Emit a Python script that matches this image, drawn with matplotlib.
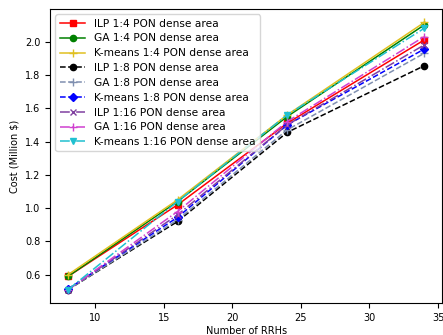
import matplotlib
matplotlib.use('Agg')
import matplotlib.pyplot as plt

# numero de RRHs
rrhs = [8, 16, 24, 34]

ilp_4 = [0.59, 1.02, 1.51, 2.01]
ga_4 = [0.59, 1.04, 1.55, 2.10]
km_4 = [0.60, 1.05, 1.56, 2.115]
ilp_8 = [0.51, 0.92, 1.455, 1.855]
ga_8 = [0.51, 0.93, 1.47, 1.93]
km_8 = [0.515, 0.945, 1.50, 1.955]
ilp_16 = [0.51, 0.96, 1.50, 1.98]
ga_16 = [0.51, 0.98, 1.52, 2.03]
km_16 = [0.51, 1.04, 1.56, 2.08]

labels = ['ILP 1:4 PON dense area', 'GA 1:4 PON dense area', 'K-means 1:4 PON dense area',
          'ILP 1:8 PON dense area', 'GA 1:8 PON dense area', 'K-means 1:8 PON dense area',
          'ILP 1:16 PON dense area', 'GA 1:16 PON dense area', 'K-means 1:16 PON dense area']

plt.rcParams['font.size'] = 7
fig = plt.figure(figsize=(4.43, 3.35), dpi=100)
ax = fig.add_axes([0.113, 0.095, 0.885, 0.878])

lw = 1.1
ms = 4.5
ax.plot(rrhs, ilp_4, '-s', color='red', lw=lw, ms=ms, label=labels[0])
ax.plot(rrhs, ga_4, '-o', color='green', lw=lw, ms=ms, label=labels[1])
ax.plot(rrhs, km_4, '-+', color='#e0c020', lw=lw, ms=ms+1, label=labels[2])
ax.plot(rrhs, ilp_8, '--o', color='black', lw=lw, ms=ms, label=labels[3])
ax.plot(rrhs, ga_8, '--+', color='#8090b0', lw=lw, ms=ms+1, label=labels[4])
ax.plot(rrhs, km_8, '--D', color='blue', lw=lw, ms=ms, label=labels[5])
ax.plot(rrhs, ilp_16, '-.x', color='#8040a0', lw=lw, ms=ms, label=labels[6])
ax.plot(rrhs, ga_16, '-.+', color='#d040d0', lw=lw, ms=ms+1, label=labels[7])
ax.plot(rrhs, km_16, '-.v', color='#20c0d0', lw=lw, ms=ms, label=labels[8])

ax.set_xlabel('Number of RRHs', labelpad=2)
ax.set_ylabel('Cost (Million \\$)', labelpad=4)
ax.set_xticks([10, 15, 20, 25, 30, 35])
ax.legend(loc='upper left', fontsize=7.7, labelspacing=0.45, handlelength=2.4)

fig.savefig('out.png', dpi=100)
